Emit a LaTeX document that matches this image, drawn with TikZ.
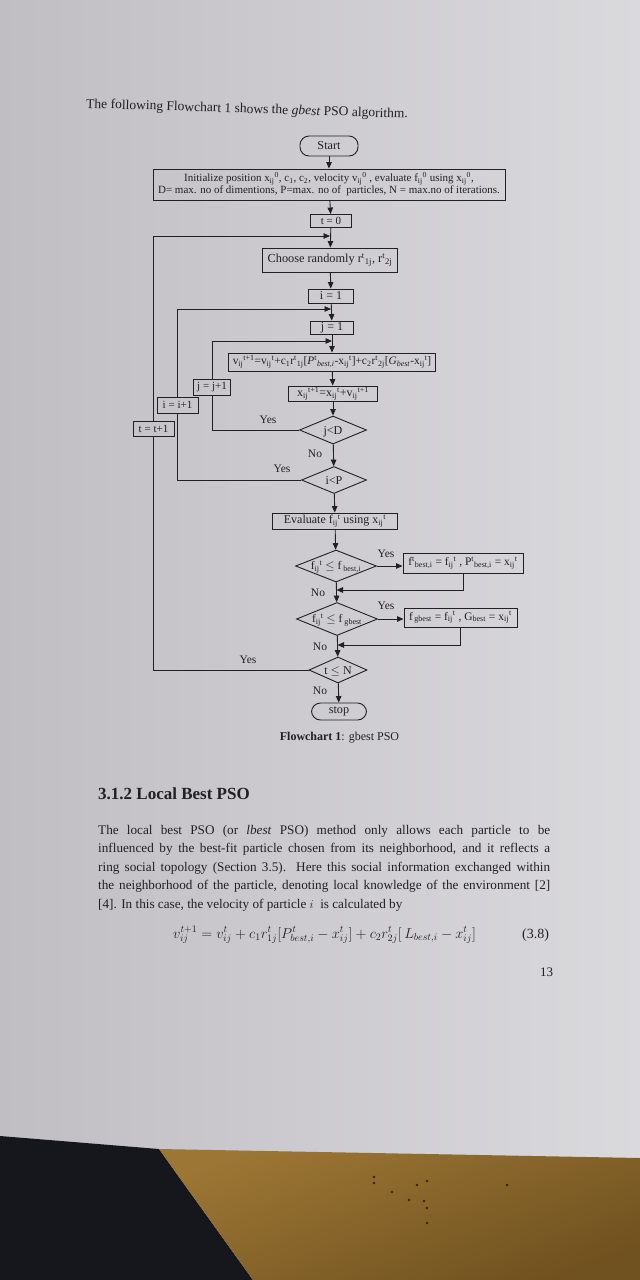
\documentclass[tikz,border=0pt]{standalone}
\usepackage{fontspec}
\setmainfont{Liberation Serif}
\usetikzlibrary{arrows.meta,shapes.geometric,calc}

\definecolor{ink}{RGB}{34,32,38}
\definecolor{paperA}{RGB}{192,190,195}
\definecolor{paperB}{RGB}{218,217,220}
\definecolor{deskdark}{RGB}{22,23,28}
\definecolor{woodA}{RGB}{156,118,52}
\definecolor{woodB}{RGB}{112,82,32}
\definecolor{hole}{RGB}{52,30,14}

% index notation as typed in the flowchart: base, subscript, then superscript
\newcommand\subsup[3]{#1\textsubscript{#2}\textsuperscript{#3}}
\newcommand\supsub[3]{#1\textsuperscript{#2}\textsubscript{#3}}
% decision text that does not enlarge its diamond
\newcommand\dtext[1]{\smash{\makebox[0pt]{\raisebox{-0.34em}{#1}}}}

\begin{document}
\begin{tikzpicture}[x=1pt,y=-1pt,
  every node/.style={text=ink, inner sep=0pt},
  box/.style={draw=ink, line width=0.9pt, rectangle, align=center,
              font=\fontsize{12}{13}\selectfont},
  term/.style={box, rounded corners=9pt, font=\fontsize{12.2}{13}\selectfont},
  dec/.style={draw=ink, line width=0.9pt, diamond, font=\fontsize{12}{13}\selectfont},
  lbl/.style={font=\fontsize{11.5}{13}\selectfont},
  arr/.style={draw=ink, line width=0.9pt, -{Triangle[length=6.5pt,width=5.5pt]}},
  ln/.style={draw=ink, line width=0.9pt},
  body/.style={anchor=base west, font=\fontsize{13.2}{15}\selectfont},
]
\useasboundingbox (0,0) rectangle (640,1280);

% sheet of paper and the desk under it
\shade[left color=paperA, right color=paperB] (0,0) rectangle (640,1165);
\fill[deskdark] (0,1136) -- (159,1149) -- (253,1280) -- (0,1280) -- cycle;
\shade[top color=woodA, bottom color=woodB, shading angle=20]
  (159,1149) -- (640,1158) -- (640,1280) -- (253,1280) -- cycle;
\foreach \p in {(374,1177),(374,1183),(392,1192),(417,1185),(427,1181),
                (409,1200),(424,1201),(427,1208),(427,1223),(507,1185)}
  \fill[hole] \p circle (1.3);

% introductory sentence
\node[anchor=base west, rotate=-1.8, font=\fontsize{13.5}{15}\selectfont] (intro)
  at (86,108) {The following Flowchart 1 shows the \textit{gbest} PSO algorithm.};

% main column
\node[term, minimum width=58, minimum height=20] (start) at (329,146) {Start};
\node[box, minimum width=352, minimum height=31, font=\fontsize{11}{12}\selectfont] (init) at (329,184.5)
  {Initialize position \subsup{x}{ij}{0}, c\textsubscript{1}, c\textsubscript{2}, velocity \subsup{v}{ij}{0} , evaluate \subsup{f}{ij}{0} using \subsup{x}{ij}{0},\\
   D= max. no of dimentions, P=max. no of\ \ particles, N = max.no of iterations.};
\node[box, minimum width=41, minimum height=13, font=\fontsize{11}{12}\selectfont] (t0) at (331,221) {t = 0};
\node[box, minimum width=135, minimum height=24, font=\fontsize{12.3}{14}\selectfont] (choose) at (330,260)
  {Choose randomly \supsub{r}{t}{1j}, \supsub{r}{t}{2j}};
\node[box, minimum width=45, minimum height=14] (i1) at (331,296) {i = 1};
\node[box, minimum width=43, minimum height=13] (j1) at (332,327.5) {j = 1};
\node[box, minimum width=207, minimum height=18, font=\fontsize{11.4}{12}\selectfont] (upd) at (332,362)
  {\subsup{v}{ij}{t+1}=\subsup{v}{ij}{t}+c\textsubscript{1}\supsub{r}{t}{1j}[\supsub{\textit{P}}{t}{\textit{best,i}}-\subsup{x}{ij}{t}]+c\textsubscript{2}\supsub{r}{t}{2j}[\textit{G}\textsubscript{\textit{best}}-\subsup{x}{ij}{t}]};
\node[box, minimum width=89, minimum height=15, font=\fontsize{12}{12}\selectfont] (xupd) at (333,393.5)
  {\subsup{x}{ij}{t+1}=\subsup{x}{ij}{t}+\subsup{v}{ij}{t+1}};
\node[dec, minimum width=67, minimum height=28] (jD) at (333,430) {\dtext{j<D}};
\node[dec, minimum width=65, minimum height=27] (iP) at (334,480) {\dtext{i<P}};
\node[box, minimum width=125, minimum height=16] (eval) at (335,521)
  {Evaluate \subsup{f}{ij}{t} using \subsup{x}{ij}{t}};
\node[dec, minimum width=81, minimum height=32, font=\fontsize{11.5}{13}\selectfont] (d1) at (336,566)
  {\dtext{\subsup{f}{ij}{t} $\leq$ f\textsubscript{\ best,i}}};
\node[box, minimum width=120, minimum height=20, font=\fontsize{11.5}{13}\selectfont] (b1) at (463,563)
  {\supsub{f}{t}{best,i} = \subsup{f}{ij}{t} , \supsub{P}{t}{best,i} = \subsup{x}{ij}{t}};
\node[dec, minimum width=81, minimum height=33, font=\fontsize{11.5}{13}\selectfont] (d2) at (337,619)
  {\dtext{\subsup{f}{ij}{t} $\leq$ f\textsubscript{\ gbest}}};
\node[box, minimum width=113, minimum height=19, font=\fontsize{11.5}{13}\selectfont] (b2) at (460.5,617.5)
  {f\textsubscript{\,gbest} = \subsup{f}{ij}{t} , G\textsubscript{best} = \subsup{x}{ij}{t}};
\node[dec, minimum width=58, minimum height=26] (tN) at (338,670) {\dtext{t $\leq$ N}};
\node[term, minimum width=55, minimum height=17] (stop) at (339,711.5) {stop};

% counter updates on the loop-back lines
\node[box, minimum width=37, minimum height=16, font=\fontsize{11}{12}\selectfont] (jinc) at (212,387) {j = j+1};
\node[box, minimum width=41, minimum height=16, font=\fontsize{11}{12}\selectfont] (iinc) at (177.5,405) {i = i+1};
\node[box, minimum width=41, minimum height=15, font=\fontsize{11}{12}\selectfont] (tinc) at (153.5,428.5) {t = t+1};

% points where the loops rejoin the main column
\coordinate (m1) at (330,236);
\coordinate (m2) at (331,309);
\coordinate (m3) at (332,341);
\coordinate (m4) at (336.5,590);
\coordinate (m5) at (337.5,645);

% main flow
\draw[arr] (start) -- (init);
\draw[arr] (init) -- (t0);
\draw[arr] (t0) -- (choose);
\draw[arr] (choose) -- (i1);
\draw[arr] (i1) -- (j1);
\draw[arr] (j1) -- (upd);
\draw[arr] (upd) -- (xupd);
\draw[arr] (xupd) -- (jD);
\draw[arr] (jD) -- (iP);
\draw[arr] (iP) -- (eval);
\draw[arr] (eval) -- (d1);
\draw[arr] (d1) -- (d2);
\draw[arr] (d2) -- (tN);
\draw[arr] (tN) -- (stop);

% personal and global best updates
\draw[arr] (d1.east) -- (d1.east -| b1.west);
\draw[arr] (b1.south) |- (m4);
\draw[arr] (d2.east) -- (d2.east -| b2.west);
\draw[arr] (b2.south) |- (m5);

% loops
\draw[ln]  (jD.west) -| (jinc.south);
\draw[arr] (jinc.north) |- (m3);
\draw[ln]  (iP.west) -| (iinc.south);
\draw[arr] (iinc.north) |- (m2);
\draw[ln]  (tN.west) -| (tinc.south);
\draw[arr] (tinc.north) |- (m1);

% branch labels
\node[lbl] (yesJ) at (268,420) {Yes};
\node[lbl] (noJ)  at (315,454) {No};
\node[lbl] (yesI) at (282,469) {Yes};
\node[lbl] (yes1) at (386,554) {Yes};
\node[lbl] (no1)  at (318,593) {No};
\node[lbl] (yes2) at (386,606) {Yes};
\node[lbl] (no2)  at (320,647) {No};
\node[lbl] (yesT) at (248,660) {Yes};
\node[lbl] (noT)  at (320,691) {No};

\node[font=\fontsize{12}{13}\selectfont] (cap) at (339.5,738) {\textbf{Flowchart 1}: gbest PSO};

% following section
\node[anchor=base west, font=\bfseries\fontsize{17}{19}\selectfont] (sec) at (98,799) {3.1.2 Local Best PSO};
\node[body] (p1) at (98,834) {\makebox[452pt][s]{The local best PSO (or \textit{lbest} PSO) method only allows each particle to be}};
\node[body] (p2) at (98,852.5) {\makebox[452pt][s]{influenced by the best-fit particle chosen from its neighborhood, and it reflects a}};
\node[body] (p3) at (98,871) {\makebox[452pt][s]{ring social topology (Section 3.5). Here this social information exchanged within}};
\node[body] (p4) at (98,889.5) {\makebox[452pt][s]{the neighborhood of the particle, denoting local knowledge of the environment [2]}};
\node[body] (p5) at (98,908) {[4]. In this case, the velocity of particle $i$\ \ is calculated by};
\node[anchor=base west, font=\fontsize{14.3}{16}\selectfont] (eq) at (173,938)
  {$v_{ij}^{t+1} = v_{ij}^{t} + c_1 r_{1j}^{t}\bigl[P_{best,i}^{t} - x_{ij}^{t}\bigr] + c_2 r_{2j}^{t}\bigl[\,L_{best,i} - x_{ij}^{t}\bigr]$};
\node[anchor=base west, font=\fontsize{14}{16}\selectfont] (eqno) at (522,938) {(3.8)};
\node[anchor=base west, font=\fontsize{13}{15}\selectfont] (pg) at (540,976) {13};
\end{tikzpicture}
\end{document}
